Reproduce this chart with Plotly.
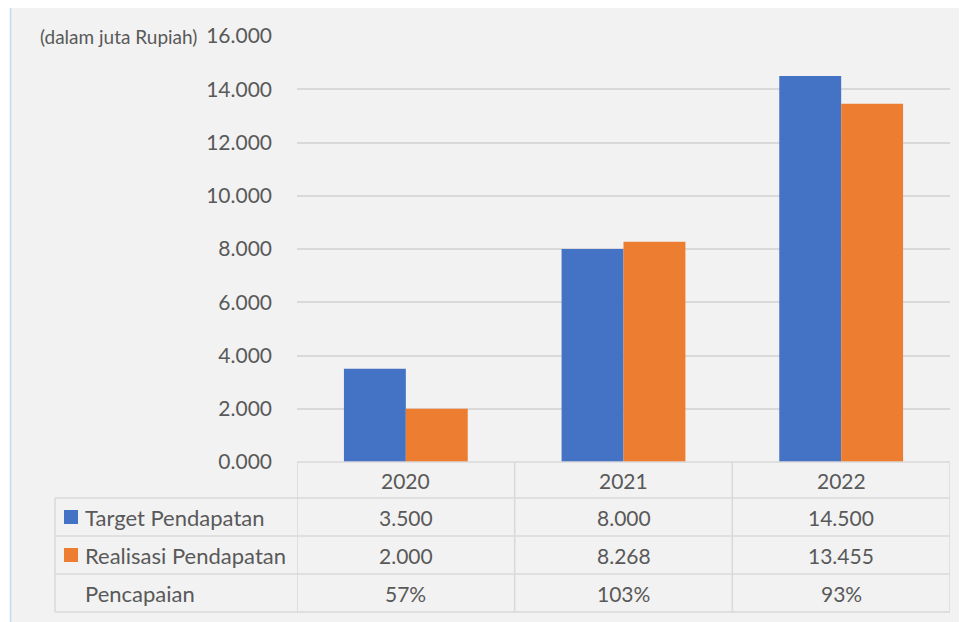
import plotly.graph_objects as go

years = ["2020", "2021", "2022"]
target = [3500, 8000, 14500]
realisasi = [2000, 8268, 13455]
pencapaian = ["57%", "103%", "93%"]
target_labels = ["3.500", "8.000", "14.500"]
realisasi_labels = ["2.000", "8.268", "13.455"]
series_names = ["Target Pendapatan", "Realisasi Pendapatan", "Pencapaian"]
tick_vals = [0, 2000, 4000, 6000, 8000, 10000, 12000, 14000, 16000]
tick_text = ["0.000", "2.000", "4.000", "6.000", "8.000", "10.000", "12.000", "14.000", "16.000"]
unit_label = "(dalam juta Rupiah)"

BLUE = "#4472c4"
ORANGE = "#ed7d31"
TXT = "#595959"
GRID = "#d9d9d9"
FONT = "Lato"

OFF = 8  # page body margin
W, H = 967 - OFF, 622 - OFF
# plot area in page pixel coordinates
L, R, T, B = 297, 950, 36, 462
PW, PH = R - L, B - T


def px(xp):
    return (xp - L) / PW


def py(yp):
    return (B - yp) / PH


fig = go.Figure()
fig.add_bar(x=years, y=target, name=series_names[0], marker_color=BLUE, marker_line_width=0)
fig.add_bar(x=years, y=realisasi, name=series_names[1], marker_color=ORANGE, marker_line_width=0)

shapes = []
shapes.append(dict(type="rect", xref="paper", yref="paper", x0=px(10), x1=px(967), y0=py(622), y1=py(7),
                   fillcolor="#f2f2f2", line_width=0, layer="below"))
shapes.append(dict(type="line", xref="paper", yref="paper", x0=px(10.5), x1=px(10.5), y0=py(622), y1=py(7),
                   line=dict(color="#c6d9f0", width=1.5), layer="below"))

rows_y = [462, 498, 536, 574, 612]
col_x = [-0.5, 0.5, 1.5, 2.5]
lw = 1.5
for i, yy in enumerate(rows_y):
    if i == 0:
        shapes.append(dict(type="line", xref="x", yref="paper", x0=-0.5, x1=2.5, y0=py(yy), y1=py(yy),
                           line=dict(color=GRID, width=lw)))
    else:
        shapes.append(dict(type="line", xref="paper", yref="paper", x0=px(55), x1=1, y0=py(yy), y1=py(yy),
                           line=dict(color=GRID, width=lw)))
for cx in col_x:
    shapes.append(dict(type="line", xref="x", yref="paper", x0=cx, x1=cx, y0=py(462), y1=py(612),
                       line=dict(color=GRID, width=lw)))
shapes.append(dict(type="line", xref="paper", yref="paper", x0=px(55), x1=px(55), y0=py(498), y1=py(612),
                   line=dict(color=GRID, width=lw)))
for yc, col in [(517, BLUE), (555, ORANGE)]:
    shapes.append(dict(type="rect", xref="paper", yref="paper", x0=px(64), x1=px(78), y0=py(yc + 7), y1=py(yc - 7),
                       fillcolor=col, line_width=0))

ann = []
row_centers = [480, 517, 555, 593]
cell_font = dict(size=21, color=TXT, family=FONT)
for j, yr in enumerate(years):
    for r, txt in enumerate([yr, target_labels[j], realisasi_labels[j], pencapaian[j]]):
        ann.append(dict(x=j, xref="x", y=py(row_centers[r]), yref="paper", text=txt, showarrow=False,
                        font=cell_font, xanchor="center", yanchor="middle"))
for k, name in enumerate(series_names):
    ann.append(dict(x=px(83), xref="paper", y=py(row_centers[k + 1]), yref="paper", text=name, showarrow=False,
                    font=dict(size=22, color=TXT, family=FONT), xanchor="left", yanchor="middle"))
ann.append(dict(x=px(199), xref="paper", y=1, yref="paper", text=unit_label, showarrow=False,
                font=dict(size=19, color=TXT, family=FONT), xanchor="right", yanchor="middle"))

fig.update_layout(
    width=W, height=H,
    margin=dict(l=L - OFF, r=967 - R, t=T - OFF, b=622 - B, pad=0),
    paper_bgcolor="white",
    plot_bgcolor="rgba(0,0,0,0)",
    barmode="group",
    bargap=94 / 218,
    bargroupgap=0,
    showlegend=False,
    font=dict(family=FONT, color=TXT),
    xaxis=dict(type="category", showticklabels=False, showgrid=False, zeroline=False, showline=False,
               ticks="", range=[-0.5, 2.5]),
    yaxis=dict(range=[0, 16000], tickvals=tick_vals, ticktext=tick_text, showgrid=True,
               gridcolor=GRID, gridwidth=1.5, zeroline=False, showline=False, ticks="",
               tickfont=dict(size=21, color=TXT, family=FONT), ticklabelstandoff=24),
    shapes=shapes,
    annotations=ann,
)

fig.write_html("out.html")
